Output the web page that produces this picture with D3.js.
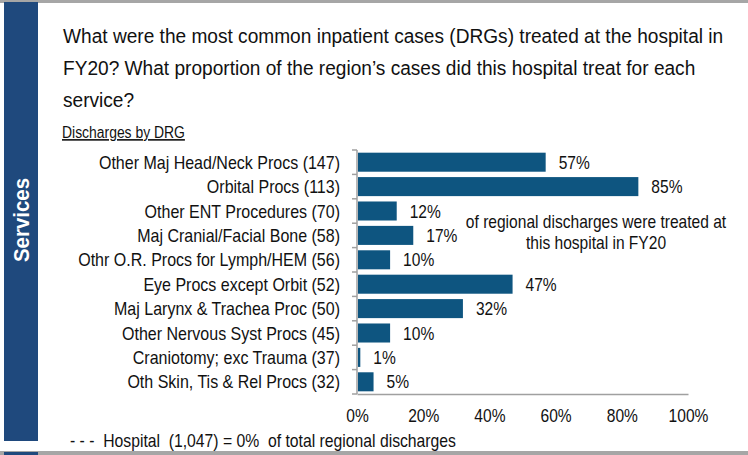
<!DOCTYPE html>
<html>
<head>
<meta charset="utf-8">
<script src="https://cdn.jsdelivr.net/npm/d3@7"></script>
<style>
  body { margin: 0; background: #fff; }
  svg { display: block; font-family: "Liberation Sans", Arial, sans-serif; }
</style>
</head>
<body>
<svg width="748" height="455"></svg>
<script>
const categories = [
  "Other Maj Head/Neck Procs (147)",
  "Orbital Procs (113)",
  "Other ENT Procedures (70)",
  "Maj Cranial/Facial Bone (58)",
  "Othr O.R. Procs for Lymph/HEM (56)",
  "Eye Procs except Orbit (52)",
  "Maj Larynx & Trachea Proc (50)",
  "Other Nervous Syst Procs (45)",
  "Craniotomy; exc Trauma (37)",
  "Oth Skin, Tis & Rel Procs (32)"
];
const shares = [57, 85, 12, 17, 10, 47, 32, 10, 1, 5];
const xTicks = [0, 20, 40, 60, 80, 100];

const titleLines = [
  "What were the most common inpatient cases (DRGs) treated at the hospital in",
  "FY20? What proportion of the region\u2019s cases did this hospital treat for each",
  "service?"
];
const noteLines = ["of regional discharges were treated at", "this hospital in FY20"];

const data = categories.map((c, i) => ({ name: c, value: shares[i] }));

const svg = d3.select("svg");
const margin = { top: 150, left: 357, right: 60, bottom: 61 };
const width = 748 - margin.left - margin.right;
const height = 455 - margin.top - margin.bottom;

// narrow text look: place by transform and squeeze horizontally
const place = (x, y, k = 0.89) => `translate(${x},${y}) scale(${k},1)`;

// frame: top rule, side band, bottom rule
svg.append("rect").attr("x", 0).attr("y", 0).attr("width", 748).attr("height", 3).attr("fill", "#a6a6a6");
svg.append("rect").attr("x", 0).attr("y", 451).attr("width", 748).attr("height", 4).attr("fill", "#a6a6a6");
svg.append("rect").attr("x", 4).attr("y", 2).attr("width", 34).attr("height", 439).attr("fill", "#1f497d");
svg.append("rect").attr("x", 4).attr("y", 452).attr("width", 34).attr("height", 3).attr("fill", "#1f497d");

svg.append("text")
  .attr("transform", "translate(29,220) rotate(-90) scale(0.93,1)")
  .attr("text-anchor", "middle")
  .attr("fill", "#fff")
  .style("font-size", "22px")
  .style("font-weight", "bold")
  .text("Services");

// title
svg.append("g").selectAll("text")
  .data(titleLines)
  .enter().append("text")
  .attr("transform", (d, i) => place(63, 43 + i * 32, 0.91))
  .style("font-size", "21px")
  .attr("fill", "#111")
  .text(d => d);

svg.append("text")
  .attr("transform", place(62, 138, 0.87))
  .style("font-size", "16px")
  .style("text-decoration", "underline")
  .attr("fill", "#111")
  .text("Discharges by DRG");

const g = svg.append("g").attr("transform", `translate(${margin.left},${margin.top})`);

const x = d3.scaleLinear().domain([0, 100]).range([0, width]);
const y = d3.scaleBand().domain(categories).range([0, height]).paddingInner(0.22).paddingOuter(0.11);

// bars
g.selectAll(".bar")
  .data(data)
  .enter().append("rect")
  .attr("class", "bar")
  .attr("x", 1)
  .attr("y", d => y(d.name))
  .attr("width", d => Math.max(0, x(d.value) - 1))
  .attr("height", y.bandwidth())
  .attr("fill", "#0e5580");

// value labels
g.selectAll(".val")
  .data(data)
  .enter().append("text")
  .attr("transform", d => place(x(d.value) + 13, y(d.name) + y.bandwidth() / 2 + 6.5))
  .style("font-size", "17.5px")
  .attr("fill", "#111")
  .text(d => d.value + "%");

// category labels
g.selectAll(".cat")
  .data(data)
  .enter().append("text")
  .attr("transform", d => place(-17, y(d.name) + y.bandwidth() / 2 + 6.5, 0.915))
  .attr("text-anchor", "end")
  .style("font-size", "17.5px")
  .attr("fill", "#111")
  .text(d => d.name);

// y axis with ticks at band boundaries
const step = height / categories.length;
g.append("line").attr("x1", 0).attr("x2", 0).attr("y1", 0).attr("y2", height)
  .attr("stroke", "#a0a0a0").attr("stroke-width", 1.5);
g.selectAll(".ytick")
  .data(d3.range(categories.length + 1))
  .enter().append("line")
  .attr("x1", -5).attr("x2", 0)
  .attr("y1", i => i * step).attr("y2", i => i * step)
  .attr("stroke", "#a0a0a0").attr("stroke-width", 1.5);

// x axis
const xAxis = g.append("g")
  .attr("transform", `translate(0,${height})`)
  .call(d3.axisBottom(x).tickValues(xTicks).tickSize(0).tickFormat(d => d + "%"));
xAxis.select(".domain").attr("stroke", "#a0a0a0").attr("stroke-width", 1.5);
xAxis.selectAll("text")
  .attr("y", null).attr("dy", null)
  .attr("transform", place(0, 28))
  .style("font-size", "17.5px")
  .style("font-family", "'Liberation Sans', Arial, sans-serif")
  .attr("fill", "#111");

// annotation
svg.append("g").selectAll("text")
  .data(noteLines)
  .enter().append("text")
  .attr("transform", (d, i) => place(596, 228 + i * 21))
  .attr("text-anchor", "middle")
  .style("font-size", "17.5px")
  .attr("fill", "#111")
  .text(d => d);

// footer
svg.append("text")
  .attr("transform", place(70, 447, 0.9))
  .style("font-size", "17.5px")
  .attr("fill", "#111")
  .attr("xml:space", "preserve")
  .text("- - -  Hospital  (1,047) = 0%  of total regional discharges");
</script>
</body>
</html>
